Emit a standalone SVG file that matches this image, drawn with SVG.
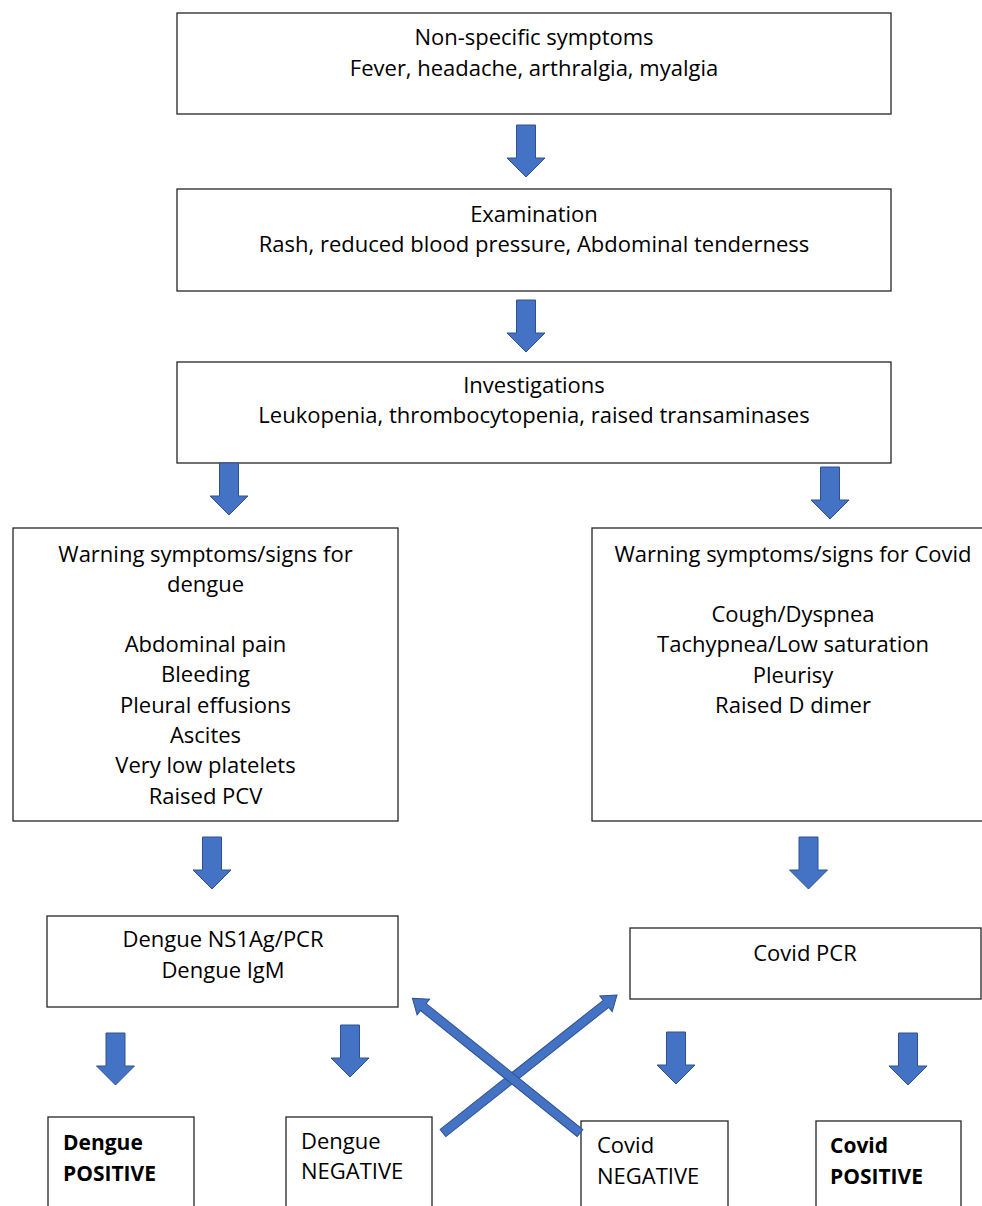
<svg xmlns="http://www.w3.org/2000/svg" width="982" height="1206" viewBox="0 0 982 1206">
<style>
.box{fill:#fff;stroke:#262626;stroke-width:1.3}
.t{font-family:"Open Sans","Liberation Sans",sans-serif;font-size:22px;fill:#000}
.c{text-anchor:middle}
.b{font-weight:bold;font-size:21px}
.arr{fill:#4472C4;stroke:#2F528F;stroke-width:1}
</style>
<defs>
<path id="down" d="M-9.5,0 H9.5 V33 H19 L0,52 L-19,33 H-9.5 Z"/>
</defs>
<rect width="982" height="1206" fill="#fff"/>

<g id="n1">
<rect class="box" x="177" y="13" width="714" height="101"/>
<text class="t c" x="534" y="45">Non-specific symptoms</text>
<text class="t c" x="534" y="76">Fever, headache, arthralgia, myalgia</text>
</g>
<g id="n2">
<rect class="box" x="177" y="189" width="714" height="102"/>
<text class="t c" x="534" y="222">Examination</text>
<text class="t c" x="534" y="252">Rash, reduced blood pressure, Abdominal tenderness</text>
</g>
<g id="n3">
<rect class="box" x="177" y="362" width="714" height="101"/>
<text class="t c" x="534" y="393">Investigations</text>
<text class="t c" x="534" y="423">Leukopenia, thrombocytopenia, raised transaminases</text>
</g>
<g id="n4">
<rect class="box" x="13" y="528" width="385" height="293"/>
<text class="t c" x="205.5" y="562">Warning symptoms/signs for</text>
<text class="t c" x="205.5" y="592">dengue</text>
<text class="t c" x="205.5" y="652">Abdominal pain</text>
<text class="t c" x="205.5" y="682">Bleeding</text>
<text class="t c" x="205.5" y="713">Pleural effusions</text>
<text class="t c" x="205.5" y="743">Ascites</text>
<text class="t c" x="205.5" y="773">Very low platelets</text>
<text class="t c" x="205.5" y="804">Raised PCV</text>
</g>
<g id="n5">
<rect class="box" x="592" y="528" width="400" height="293"/>
<text class="t c" x="793" y="562">Warning symptoms/signs for Covid</text>
<text class="t c" x="793" y="622">Cough/Dyspnea</text>
<text class="t c" x="793" y="652">Tachypnea/Low saturation</text>
<text class="t c" x="793" y="683">Pleurisy</text>
<text class="t c" x="793" y="713">Raised D dimer</text>
</g>
<g id="n6">
<rect class="box" x="47" y="916" width="351" height="91"/>
<text class="t c" x="223" y="947">Dengue NS1Ag/PCR</text>
<text class="t c" x="223" y="978">Dengue IgM</text>
</g>
<g id="n7">
<rect class="box" x="630" y="928" width="351" height="71"/>
<text class="t c" x="805" y="961">Covid PCR</text>
</g>
<g id="n8">
<rect class="box" x="48" y="1117" width="146" height="100"/>
<text class="t b" x="63" y="1150">Dengue</text>
<text class="t b" x="63" y="1181">POSITIVE</text>
</g>
<g id="n9">
<rect class="box" x="286" y="1117" width="146" height="100"/>
<text class="t" x="301" y="1149">Dengue</text>
<text class="t" x="301" y="1179">NEGATIVE</text>
</g>
<g id="n10">
<rect class="box" x="581" y="1121" width="147" height="100"/>
<text class="t" x="597" y="1153">Covid</text>
<text class="t" x="597" y="1184">NEGATIVE</text>
</g>
<g id="n11">
<rect class="box" x="816" y="1121" width="145" height="100"/>
<text class="t b" x="830" y="1153">Covid</text>
<text class="t b" x="830" y="1184">POSITIVE</text>
</g>

<g id="connectors">
<use href="#down" class="arr" transform="translate(526,125)"/>
<use href="#down" class="arr" transform="translate(526,300)"/>
<use href="#down" class="arr" transform="translate(229,463)"/>
<use href="#down" class="arr" transform="translate(830,467)"/>
<use href="#down" class="arr" transform="translate(212,837)"/>
<use href="#down" class="arr" transform="translate(808.5,837)"/>
<use href="#down" class="arr" transform="translate(115.5,1033)"/>
<use href="#down" class="arr" transform="translate(350,1025)"/>
<use href="#down" class="arr" transform="translate(676,1032)"/>
<use href="#down" class="arr" transform="translate(908,1033)"/>
<path class="arr" transform="translate(443,1133) rotate(-38.4)" d="M0,-4.5 H208 V-10 L222,0 L208,10 V4.5 H0 Z"/>
<path class="arr" transform="translate(580,1133) rotate(-141.2)" d="M0,-4.5 H201 V-10 L215,0 L201,10 V4.5 H0 Z"/>
</g>
</svg>
